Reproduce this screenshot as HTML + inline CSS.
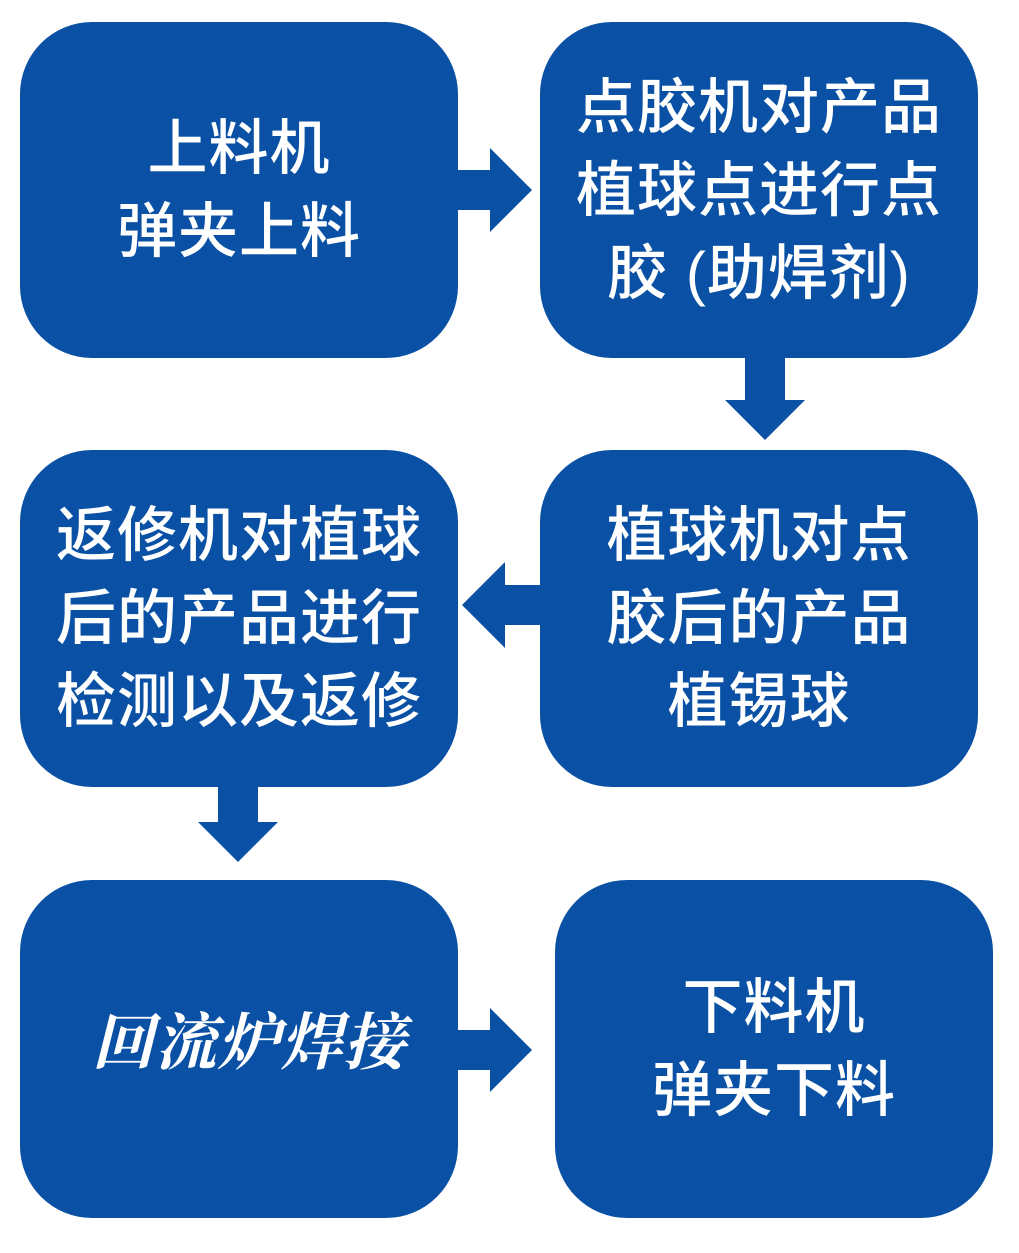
<!DOCTYPE html>
<html><head><meta charset="utf-8"><style>
html,body{margin:0;padding:0;background:#fff;}
body{width:1019px;height:1253px;position:relative;overflow:hidden;font-family:"Liberation Sans","Noto Sans CJK SC",sans-serif;}
.b{position:absolute;background:#0a51a5;border-radius:72px;color:#fff;display:flex;align-items:center;justify-content:center;text-align:center;font-size:60px;line-height:83px;letter-spacing:1px;font-weight:500;}
svg{position:absolute;left:0;top:0;}
</style></head><body>
<div class="b" style="left:20px;top:22px;width:438px;height:336px;">上料机<br>弹夹上料</div>
<div class="b" style="left:540px;top:22px;width:438px;height:336px;">点胶机对产品<br>植球点进行点<br>胶 (助焊剂)</div>
<div class="b" style="left:20px;top:450px;width:438px;height:337px;">返修机对植球<br>后的产品进行<br>检测以及返修</div>
<div class="b" style="left:540px;top:450px;width:438px;height:337px;">植球机对点<br>胶后的产品<br>植锡球</div>
<div class="b" style="left:20px;top:880px;width:438px;height:338px;font-style:italic;font-weight:bold;font-family:'Liberation Serif','Noto Serif CJK SC',serif;font-size:62px;padding-left:20px;box-sizing:border-box;padding-bottom:10px;">回流炉焊接</div>
<div class="b" style="left:555px;top:880px;width:438px;height:338px;">下料机<br>弹夹下料</div>
<svg width="1019" height="1253" fill="#0a51a5">
<polygon points="458,170 490,170 490,148 532,190 490,232 490,210 458,210"/>
<polygon points="745,358 785,358 785,400 805,400 765,440 725,400 745,400"/>
<polygon points="540,585 505,585 505,562 462,605 505,648 505,625 540,625"/>
<polygon points="218,787 258,787 258,822 278,822 238,862 198,822 218,822"/>
<polygon points="458,1030 490,1030 490,1008 532,1050 490,1092 490,1070 458,1070"/>
</svg>
</body></html>
